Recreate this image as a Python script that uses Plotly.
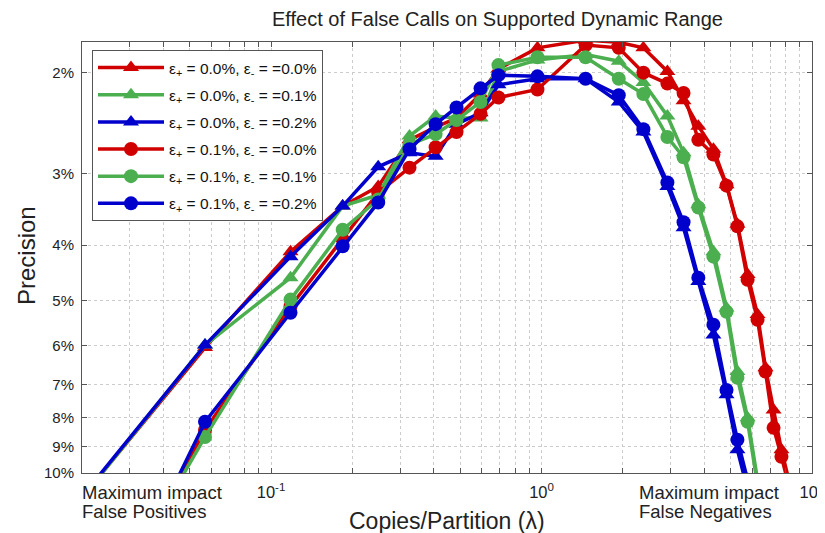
import math
import plotly.graph_objects as go

# ---------------- data ----------------
lam_tri = [0.015, 0.057, 0.118, 0.184, 0.249, 0.325, 0.406, 0.485, 0.595, 0.693,
           0.966, 1.455, 1.93, 2.38, 2.92, 3.35, 3.80, 4.32, 4.83, 5.30, 5.78,
           6.29, 6.73, 7.21, 7.71, 8.33]
lam_circ = [0.03] + lam_tri[1:]

# precision in %
red_tri = [13.0, 6.04, 4.11, 3.42, 3.16, 2.62, 2.49, 2.40, 2.18, 1.97,
           1.81, 1.755, 1.77, 1.81, 1.99, 2.24, 2.48, 2.72, 3.14, 3.68, 4.50,
           5.29, 6.55, 7.76, 9.11, 10.58]
green_tri = [13.1, 5.98, 4.56, 3.42, 3.27, 2.58, 2.38, 2.40, 2.40, 1.99,
             1.90, 1.86, 1.91, 2.08, 2.38, 2.76, 3.40, 4.11, 5.15, 6.65, 8.01,
             10.28]
blue_tri = [13.0, 5.98, 4.19, 3.42, 2.92, 2.76, 2.80, 2.46, 2.35, 2.10,
            2.05, 2.05, 2.25, 2.54, 3.16, 3.73, 4.63, 5.74, 7.30, 9.11, 10.7]
red_circ = [14.9, 8.41, 5.12, 3.91, 3.24, 2.93, 2.70, 2.54, 2.36, 2.21,
            2.14, 1.79, 1.81, 2.00, 2.09, 2.17, 2.62, 2.78, 3.15, 3.71, 4.60,
            5.40, 6.65, 8.34, 9.37, 10.8]
green_circ = [14.6, 8.65, 4.98, 3.76, 3.33, 2.67, 2.56, 2.42, 2.25, 1.94,
              1.88, 1.88, 2.05, 2.18, 2.59, 2.81, 3.44, 4.19, 5.23, 6.82, 8.14,
              10.5]
blue_circ = [15.2, 8.14, 5.25, 4.02, 3.37, 2.72, 2.46, 2.30, 2.13, 2.02,
             2.03, 2.05, 2.19, 2.51, 3.11, 3.65, 4.56, 5.51, 7.16, 8.75, 10.28]

names = ["ε<sub>+</sub> = 0.0%, ε<sub>-</sub> = =0.0%",
         "ε<sub>+</sub> = 0.0%, ε<sub>-</sub> = =0.1%",
         "ε<sub>+</sub> = 0.0%, ε<sub>-</sub> = =0.2%",
         "ε<sub>+</sub> = 0.1%, ε<sub>-</sub> = =0.0%",
         "ε<sub>+</sub> = 0.1%, ε<sub>-</sub> = =0.1%",
         "ε<sub>+</sub> = 0.1%, ε<sub>-</sub> = =0.2%"]

y_ticks = [2, 3, 4, 5, 6, 7, 8, 9, 10]
y_ticktext = ["2%", "3%", "4%", "5%", "6%", "7%", "8%", "9%", "10%"]
x_decades = {0.1: "10<sup>-1</sup>", 1: "10<sup>0</sup>", 10: "10<sup>1</sup>"}

# ---------------- styling ----------------
RED, GREEN, BLUE = "#d10000", "#4caf4f", "#0000cc"
FONT = "Liberation Sans, Arial, Helvetica, sans-serif"

series = [
    (lam_tri, red_tri, RED, "triangle-up"),
    (lam_tri, green_tri, GREEN, "triangle-up"),
    (lam_tri, blue_tri, BLUE, "triangle-up"),
    (lam_circ, red_circ, RED, "circle"),
    (lam_circ, green_circ, GREEN, "circle"),
    (lam_circ, blue_circ, BLUE, "circle"),
]

fig = go.Figure()
for i, ((xs, ys, col, sym), nm) in enumerate(zip(series, names)):
    n = min(len(xs), len(ys))
    fig.add_trace(go.Scatter(
        x=xs[:n], y=ys[:n], name=nm, mode="lines+markers", legendgroup=f"g{i}",
        line=dict(color=col, width=3.5),
        marker=dict(color=col, symbol=sym, size=14, line=dict(width=0)),
    ))

# x tick positions: every 1..9 * decade
x_tickvals, x_ticktext = [], []
for dec in [0.01, 0.1, 1]:
    for m in range(1, 10):
        v = round(m * dec, 4)
        if v < 0.02:
            continue
        x_tickvals.append(v)
        x_ticktext.append(x_decades.get(v, ""))
x_tickvals.append(10)
x_ticktext.append(x_decades[10])

axis_common = dict(
    type="log", showline=True, linecolor="#555555", linewidth=1, mirror="allticks",
    ticks="inside", ticklen=5, tickcolor="#555555", automargin=False,
    showgrid=True, gridcolor="#cccccc", griddash="dot", gridwidth=1,
    zeroline=False,
)

fig.update_xaxes(range=[math.log10(0.02), 1], tickmode="array",
                 tickvals=x_tickvals, ticktext=x_ticktext, ticklabelstandoff=4,
                 tickfont=dict(family=FONT, size=16.5, color="#222222"),
                 **axis_common)
fig.update_yaxes(range=[1, math.log10(1.768)], tickmode="array",
                 tickvals=y_ticks, ticktext=y_ticktext, ticklabelstandoff=4,
                 tickfont=dict(family=FONT, size=15, color="#222222"),
                 **axis_common)

# The page body has an 8px margin, so the figure is 817x525 and sits at (8, 8).
OFF = 8
W, H = 825 - OFF, 533 - OFF
L, T = 82 - OFF, 42 - OFF
R = W - (812 - OFF)
B = H - (473 - OFF)
pw, ph = W - L - R, H - T - B


def px(xp):  # page pixel -> paper x
    return (xp - OFF - L) / pw


def py(yp):  # page pixel -> paper y
    return (H - B - (yp - OFF)) / ph


annots = [
    dict(text="Effect of False Calls on Supported Dynamic Range", x=px(497), y=py(19),
         xanchor="center", yanchor="middle", font=dict(size=20)),
    dict(text="Copies/Partition (λ)", x=px(447), y=py(521), xanchor="center",
         yanchor="middle", font=dict(size=23)),
    dict(text="Precision", x=px(27), y=py(256), xanchor="center", yanchor="middle",
         textangle=-90, font=dict(size=24)),
    dict(text="Maximum impact", x=px(80), y=py(492), xanchor="left",
         yanchor="middle", font=dict(size=18.5)),
    dict(text="False Positives", x=px(80), y=py(512), xanchor="left",
         yanchor="middle", font=dict(size=18.5)),
    dict(text="Maximum impact", x=px(637), y=py(492), xanchor="left",
         yanchor="middle", font=dict(size=18.5)),
    dict(text="False Negatives", x=px(637), y=py(512), xanchor="left",
         yanchor="middle", font=dict(size=18.5)),
]
for a in annots:
    a.update(xref="paper", yref="paper", showarrow=False)
    a["font"].update(family=FONT, color="#222222")

fig.update_layout(
    width=W, height=H, margin=dict(l=L, r=R, t=T, b=B, autoexpand=False),
    paper_bgcolor="white", plot_bgcolor="white",
    font=dict(family=FONT, color="#222222"),
    annotations=annots,
    legend=dict(x=px(92), y=py(50), xanchor="left", yanchor="top",
                bgcolor="white", bordercolor="#555555", borderwidth=1,
                font=dict(family=FONT, size=15.5, color="#111111"),
                itemwidth=66, tracegroupgap=4),
    showlegend=True,
)

fig.write_html("out.html")
